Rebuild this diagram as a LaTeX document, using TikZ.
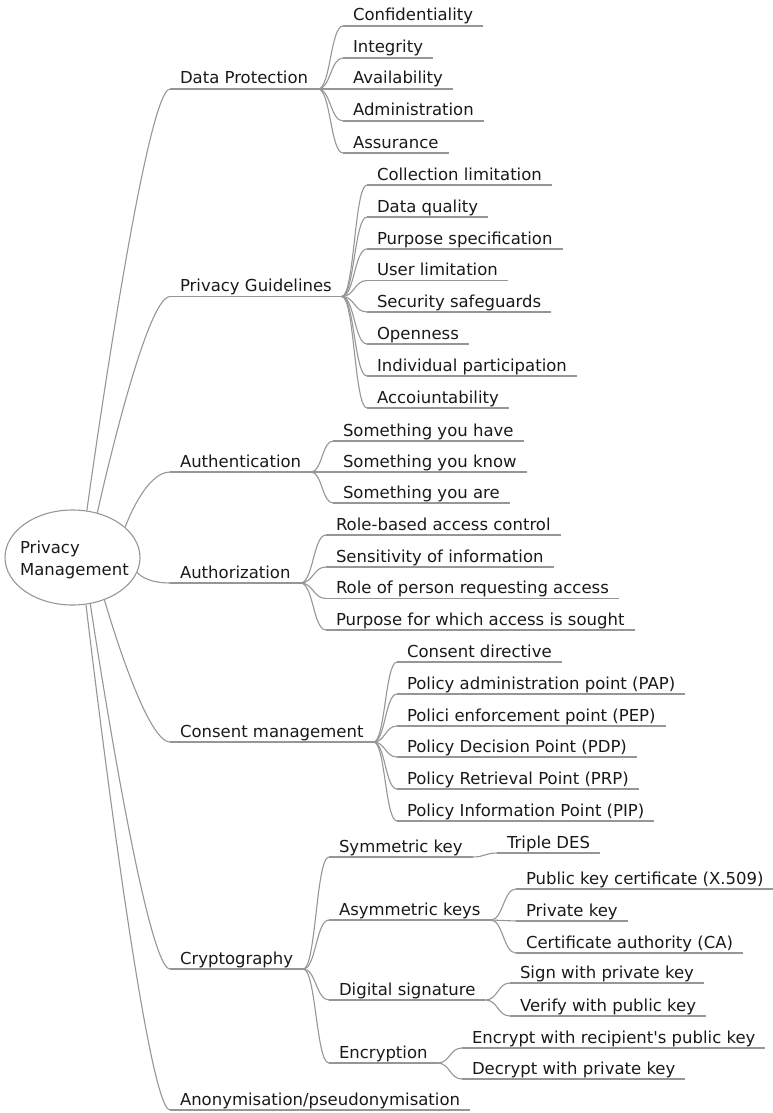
\documentclass[tikz,border=0pt]{standalone}
\usepackage{fontspec}
\setmainfont{DejaVu Sans}[Ligatures=TeXOff]
\usetikzlibrary{shapes.geometric,calc}

\definecolor{linegray}{RGB}{150,150,150}
\definecolor{ink}{RGB}{25,25,25}
\newcommand\mapfont{\fontsize{16.5}{22}\selectfont}

\tikzset{
  topic/.style={anchor=south west, inner xsep=10pt, inner ysep=0pt, outer sep=0pt,
                text height=12pt, text depth=5pt, font=\mapfont, text=ink},
  link/.style={draw=linegray, line width=1.1pt},
  rootshape/.style={ellipse, draw=linegray, line width=1.1pt,
                    minimum width=135pt, minimum height=95pt, inner sep=0pt},
}

% a topic: label whose text starts at x = #2, underlined at y = #3
\newcommand\topic[4]{%
  \node[topic] (#1) at ({#2-10},#3) {#4};
  \draw[link] (#1.south west) -- (#1.south east);}
% branch leaving the central ellipse at angle #1 towards topic #2
\newcommand\rootlink[2]{%
  \draw[link] (root.#1) .. controls (root.#1) and ($(#2.south west)+(-25,0)$) .. (#2.south west);}
% S-shaped branch from the end of one underline to the start of the next
\newcommand\sublink[2]{%
  \draw[link] let \p1=(#1.south east), \p2=(#2.south west) in
    (\p1) .. controls ({0.5*\x1+0.5*\x2},\y1) and ({0.5*\x1+0.5*\x2},\y2) .. (\p2);}

\begin{document}
\begin{tikzpicture}[x=1pt,y=-1pt]
\useasboundingbox (0,0) rectangle (773,1113);

% central topic
\node[rootshape] (root) at (72.5,557.5) {};
\node[font=\mapfont, text=ink, align=left, inner sep=0pt] (roottext) at (74.4,559.8) {Privacy\\Management};

% main branches
\topic{dp}{180}{89}{Data Protection}
\topic{pg}{180}{296.5}{Privacy Guidelines}
\topic{authn}{180}{472}{Authentication}
\topic{authz}{180}{583}{Authorization}
\topic{consent}{180}{742}{Consent management}
\topic{crypto}{180}{969}{Cryptography}
\topic{anon}{180}{1110}{Anonymisation/pseudonymisation}

\rootlink{73}{dp}
\rootlink{61}{pg}
\rootlink{30}{authn}
\rootlink{-13}{authz}
\rootlink{-53}{consent}
\rootlink{-69}{crypto}
\rootlink{-74}{anon}

% Data Protection
\topic{dp1}{353}{26}{Confidentiality}
\topic{dp2}{353}{58}{Integrity}
\topic{dp3}{353}{89}{Availability}
\topic{dp4}{353}{121}{Administration}
\topic{dp5}{353}{153}{Assurance}
\foreach \i in {1,...,5} {\sublink{dp}{dp\i}}

% Privacy Guidelines
\topic{pg1}{377}{185}{Collection limitation}
\topic{pg2}{377}{217}{Data quality}
\topic{pg3}{377}{249}{Purpose specification}
\topic{pg4}{377}{280.5}{User limitation}
\topic{pg5}{377}{312}{Security safeguards}
\topic{pg6}{377}{344}{Openness}
\topic{pg7}{377}{376}{Individual participation}
\topic{pg8}{377}{408}{Accoiuntability}
\foreach \i in {1,...,8} {\sublink{pg}{pg\i}}

% Authentication
\topic{an1}{343}{441}{Something you have}
\topic{an2}{343}{472}{Something you know}
\topic{an3}{343}{503}{Something you are}
\foreach \i in {1,...,3} {\sublink{authn}{an\i}}

% Authorization
\topic{az1}{336}{535}{Role-based access control}
\topic{az2}{336}{567}{Sensitivity of information}
\topic{az3}{336}{598.5}{Role of person requesting access}
\topic{az4}{336}{630}{Purpose for which access is sought}
\foreach \i in {1,...,4} {\sublink{authz}{az\i}}

% Consent management
\topic{cm1}{407}{662}{Consent directive}
\topic{cm2}{407}{694}{Policy administration point (PAP)}
\topic{cm3}{407}{726}{Polici enforcement point (PEP)}
\topic{cm4}{407}{757}{Policy Decision Point (PDP)}
\topic{cm5}{407}{789}{Policy Retrieval Point (PRP)}
\topic{cm6}{407}{821}{Policy Information Point (PIP)}
\foreach \i in {1,...,6} {\sublink{consent}{cm\i}}

% Cryptography
\topic{symk}{339}{857}{Symmetric key}
\topic{asymk}{339}{920}{Asymmetric keys}
\topic{dsig}{339}{1000}{Digital signature}
\topic{encr}{339}{1063}{Encryption}
\foreach \br in {symk,asymk,dsig,encr} {\sublink{crypto}{\br}}

\topic{tdes}{507}{853}{Triple DES}
\sublink{symk}{tdes}

\topic{ak1}{526}{889}{Public key certificate (X.509)}
\topic{ak2}{526}{921}{Private key}
\topic{ak3}{526}{953}{Certificate authority (CA)}
\foreach \i in {1,...,3} {\sublink{asymk}{ak\i}}

\topic{ds1}{520}{983}{Sign with private key}
\topic{ds2}{520}{1016}{Verify with public key}
\foreach \i in {1,2} {\sublink{dsig}{ds\i}}

\topic{en1}{472}{1048}{Encrypt with recipient's public key}
\topic{en2}{472}{1079}{Decrypt with private key}
\foreach \i in {1,2} {\sublink{encr}{en\i}}
\end{tikzpicture}
\end{document}
